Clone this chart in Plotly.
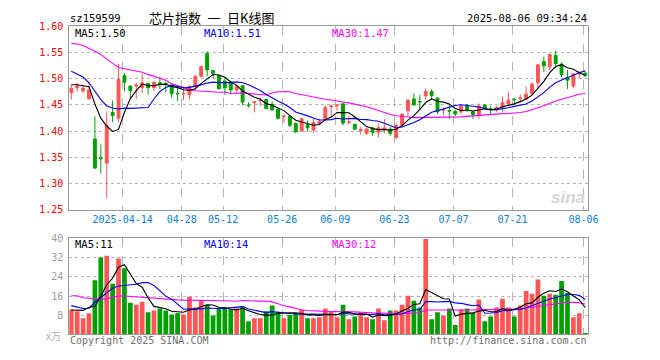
import plotly.graph_objects as go
import pandas as pd

# ---------------- data ----------------
dates = [
    "2025-03-31", "2025-04-01", "2025-04-02", "2025-04-03", "2025-04-07", "2025-04-08", "2025-04-09", "2025-04-10",
    "2025-04-11", "2025-04-14", "2025-04-15", "2025-04-16", "2025-04-17", "2025-04-18", "2025-04-21", "2025-04-22",
    "2025-04-23", "2025-04-24", "2025-04-25", "2025-04-28", "2025-04-29", "2025-04-30", "2025-05-06", "2025-05-07",
    "2025-05-08", "2025-05-09", "2025-05-12", "2025-05-13", "2025-05-14", "2025-05-15", "2025-05-16", "2025-05-19",
    "2025-05-20", "2025-05-21", "2025-05-22", "2025-05-23", "2025-05-26", "2025-05-27", "2025-05-28", "2025-05-29",
    "2025-05-30", "2025-06-03", "2025-06-04", "2025-06-05", "2025-06-06", "2025-06-09", "2025-06-10", "2025-06-11",
    "2025-06-12", "2025-06-13", "2025-06-16", "2025-06-17", "2025-06-18", "2025-06-19", "2025-06-20", "2025-06-23",
    "2025-06-24", "2025-06-25", "2025-06-26", "2025-06-27", "2025-06-30", "2025-07-01", "2025-07-02", "2025-07-03",
    "2025-07-04", "2025-07-07", "2025-07-08", "2025-07-09", "2025-07-10", "2025-07-11", "2025-07-14", "2025-07-15",
    "2025-07-16", "2025-07-17", "2025-07-18", "2025-07-21", "2025-07-22", "2025-07-23", "2025-07-24", "2025-07-25",
    "2025-07-28", "2025-07-29", "2025-07-30", "2025-07-31", "2025-08-01", "2025-08-04", "2025-08-05", "2025-08-06",
]

opens = [
    1.4730, 1.4828, 1.4767, 1.4614, 1.3849, 1.3495, 1.3390, 1.4357, 1.4247, 1.5054,
    1.4859, 1.4859, 1.4828, 1.4908, 1.4828, 1.4920, 1.4908, 1.4877, 1.4718, 1.4706,
    1.4693, 1.4859, 1.5042, 1.5477, 1.5152, 1.5060, 1.4950, 1.4938, 1.4785, 1.4865,
    1.4497, 1.4546, 1.4583, 1.4601, 1.4509, 1.4417, 1.4276, 1.4283, 1.4142, 1.4001,
    1.4123, 1.4019, 1.4142, 1.4221, 1.4466, 1.4483, 1.4521, 1.4164, 1.4130, 1.4013,
    1.3958, 1.4062, 1.3977, 1.4020, 1.4038, 1.3879, 1.4111, 1.4387, 1.4613, 1.4564,
    1.4674, 1.4754, 1.4631, 1.4399, 1.4390, 1.4374, 1.4368, 1.4497, 1.4368, 1.4307,
    1.4497, 1.4420, 1.4405, 1.4448, 1.4527, 1.4605, 1.4620, 1.4614, 1.4712, 1.4920,
    1.5324, 1.5226, 1.5440, 1.5275, 1.5018, 1.4859, 1.5085, 1.5103,
]
highs = [
    1.4877, 1.4920, 1.4877, 1.4950, 1.4283, 1.3745, 1.4375, 1.4583, 1.5275, 1.5109,
    1.4865, 1.4920, 1.5091, 1.4914, 1.4950, 1.5030, 1.4938, 1.4895, 1.4846, 1.4859,
    1.4877, 1.5048, 1.5256, 1.5520, 1.5152, 1.5072, 1.5012, 1.4950, 1.4877, 1.4865,
    1.4550, 1.4570, 1.4631, 1.4601, 1.4570, 1.4417, 1.4325, 1.4295, 1.4172, 1.4246,
    1.4203, 1.4234, 1.4234, 1.4490, 1.4509, 1.4521, 1.4527, 1.4283, 1.4142, 1.4081,
    1.4068, 1.4081, 1.4142, 1.4234, 1.4081, 1.4142, 1.4325, 1.4613, 1.4723, 1.4693,
    1.4815, 1.4797, 1.4631, 1.4448, 1.4490, 1.4405, 1.4509, 1.4509, 1.4368, 1.4527,
    1.4509, 1.4478, 1.4478, 1.4662, 1.4754, 1.4632, 1.4693, 1.4846, 1.4920, 1.5263,
    1.5416, 1.5458, 1.5532, 1.5306, 1.5165, 1.5091, 1.5140, 1.5140,
]
lows = [
    1.4600, 1.4750, 1.4724, 1.4595, 1.3280, 1.3194, 1.2729, 1.4173, 1.4173, 1.4755,
    1.4626, 1.4614, 1.4724, 1.4693, 1.4755, 1.4797, 1.4736, 1.4632, 1.4571, 1.4589,
    1.4602, 1.4785, 1.5030, 1.5042, 1.5012, 1.4797, 1.4693, 1.4693, 1.4724, 1.4491,
    1.4448, 1.4356, 1.4478, 1.4417, 1.4387, 1.4221, 1.4160, 1.4080, 1.3958, 1.3995,
    1.3989, 1.3970, 1.4111, 1.4203, 1.4264, 1.4387, 1.4111, 1.4130, 1.4020, 1.3928,
    1.3928, 1.3915, 1.3885, 1.3958, 1.3915, 1.3854, 1.4099, 1.4283, 1.4497, 1.4387,
    1.4601, 1.4589, 1.4325, 1.4307, 1.4234, 1.4283, 1.4325, 1.4368, 1.4234, 1.4234,
    1.4417, 1.4325, 1.4368, 1.4368, 1.4509, 1.4528, 1.4540, 1.4589, 1.4693, 1.4816,
    1.5122, 1.5152, 1.5201, 1.5030, 1.4803, 1.4816, 1.5000, 1.5030,
]
closes = [
    1.4816, 1.4865, 1.4816, 1.4785, 1.3298, 1.3475, 1.4112, 1.4296, 1.4981, 1.4932,
    1.4773, 1.4877, 1.4920, 1.4828, 1.4926, 1.4895, 1.4895, 1.4712, 1.4712, 1.4718,
    1.4846, 1.5048, 1.5226, 1.5165, 1.5103, 1.4804, 1.4828, 1.4785, 1.4846, 1.4553,
    1.4485, 1.4558, 1.4589, 1.4430, 1.4405, 1.4246, 1.4283, 1.4111, 1.3989, 1.4234,
    1.4062, 1.4160, 1.4185, 1.4448, 1.4478, 1.4497, 1.4154, 1.4172, 1.4038, 1.4026,
    1.4038, 1.3977, 1.4062, 1.4062, 1.3958, 1.4111, 1.4325, 1.4589, 1.4497, 1.4558,
    1.4754, 1.4674, 1.4368, 1.4405, 1.4383, 1.4325, 1.4478, 1.4417, 1.4313, 1.4478,
    1.4436, 1.4417, 1.4448, 1.4540, 1.4589, 1.4599, 1.4632, 1.4706, 1.4895, 1.5263,
    1.5244, 1.5458, 1.5287, 1.5079, 1.4969, 1.5091, 1.5122, 1.5061,
]
volumes = [  # 万
    10.4, 9.7, 6.7, 8.8, 22.6, 32.0, 32.8, 21.1, 31.6, 27.6,
    13.2, 12.4, 13.6, 9.2, 10.0, 10.8, 10.0, 8.3, 8.9, 8.3,
    15.7, 11.2, 14.2, 12.4, 7.9, 10.9, 10.7, 10.4, 10.9, 11.6,
    5.5, 6.7, 6.7, 9.6, 12.0, 9.4, 6.7, 8.1, 8.8, 10.4,
    6.7, 6.7, 7.1, 10.8, 9.3, 7.1, 12.4, 6.3, 7.5, 9.0,
    7.1, 6.3, 10.8, 5.9, 10.0, 10.0, 12.4, 16.1, 14.0, 11.2,
    39.7, 6.3, 9.2, 7.9, 10.8, 3.9, 10.4, 10.8, 9.0, 14.5,
    5.5, 7.5, 11.2, 14.9, 11.2, 7.5, 12.0, 18.1, 16.9, 22.9,
    16.1, 16.9, 16.5, 22.2, 17.3, 7.1, 8.8, 0.6,
]

# moving-average values before enough visible history exists
ma5_head = [1.4883, 1.4883, 1.4865, 1.4846]
ma10_head = [1.514, 1.509, 1.503, 1.492, 1.475, 1.460, 1.448, 1.444, 1.442]
ma30_head = [1.567, 1.566, 1.563, 1.558, 1.552, 1.546, 1.537, 1.529, 1.521, 1.519,
             1.516, 1.514, 1.512, 1.508, 1.504, 1.501, 1.497, 1.490, 1.486, 1.482,
             1.479, 1.477, 1.476, 1.475, 1.474, 1.474, 1.474, 1.472, 1.472]
vma5_head = [10.2, 10.1, 10.0, 11.3]
vma10_head = [12.0, 11.5, 10.8, 10.9, 13.4, 15.4, 17.2, 19.2, 20.2]
vma30_head = [16.1, 16.1, 15.3, 15.0, 14.8, 14.7, 14.9, 15.5, 16.0, 16.0,
              15.8, 15.5, 15.3, 15.1, 15.0, 14.9, 14.7, 14.5, 14.4, 14.3,
              14.3, 14.3, 14.3, 14.3, 14.2, 14.1, 14.0, 13.9, 13.8]

tick_dates = ["2025-04-14", "2025-04-28", "2025-05-12", "2025-05-26", "2025-06-09",
              "2025-06-23", "2025-07-07", "2025-07-21", "2025-08-06"]
tick_labels = ["2025-04-14", "04-28", "05-12", "05-26", "06-09", "06-23", "07-07", "07-21", "08-06"]
price_ticks = [1.25, 1.30, 1.35, 1.40, 1.45, 1.50, 1.55, 1.60]
vol_ticks = [8, 16, 24, 32, 40]

title_code = "sz159599"
title_name = "芯片指数\u2002一\u2002日K线图"
title_time = "2025-08-06 09:34:24"
ma_labels = ["MA5:1.50", "MA10:1.51", "MA30:1.47"]
vma_labels = ["MA5:11", "MA10:14", "MA30:12"]

# ---------------- derived ----------------
n = len(dates)
idx = list(range(n))


def moving(values, w, head):
    s = pd.Series(values).rolling(w).mean().tolist()
    return head + s[len(head):]


ma5 = moving(closes, 5, ma5_head)
ma10 = moving(closes, 10, ma10_head)
ma30 = moving(closes, 30, ma30_head)
vma5 = moving(volumes, 5, vma5_head)
vma10 = moving(volumes, 10, vma10_head)
vma30 = moving(volumes, 30, vma30_head)

RED = "#FF5555"
GREEN = "#00A000"
MONO = "DejaVu Sans Mono"
# The page body keeps an 8px margin, so the figure is 16px smaller than the
# 660x360 window and all reference pixel positions are shifted by 8px.
OFF = 8
W, H = 660 - 2 * OFF, 360 - 2 * OFF


def px(x):
    return (x - OFF) / W


def py(y):
    return (H + OFF - y) / H


vol_colors = [RED if c >= o else GREEN for o, c in zip(opens, closes)]
tick_pos = [dates.index(d) - 0.3 for d in tick_dates]

fig = go.Figure()
fig.add_trace(go.Candlestick(
    x=idx, open=opens, high=highs, low=lows, close=closes,
    increasing=dict(line=dict(color=RED, width=1), fillcolor=RED),
    decreasing=dict(line=dict(color=GREEN, width=1), fillcolor=GREEN),
    whiskerwidth=0, hoverinfo="skip", xaxis="x", yaxis="y"))
for vals, col in [(ma30, "#FF00FF"), (ma10, "#0000FF"), (ma5, "#000000")]:
    fig.add_trace(go.Scatter(x=idx, y=vals, mode="lines", line=dict(color=col, width=1.1),
                             hoverinfo="skip", xaxis="x", yaxis="y"))

fig.add_trace(go.Bar(x=idx, y=volumes, marker=dict(color=vol_colors, line=dict(width=0)),
                     width=0.8, hoverinfo="skip", xaxis="x2", yaxis="y2"))
for vals, col in [(vma30, "#FF00FF"), (vma10, "#0000FF"), (vma5, "#000000")]:
    fig.add_trace(go.Scatter(x=idx, y=vals, mode="lines", line=dict(color=col, width=1.1),
                             hoverinfo="skip", xaxis="x2", yaxis="y2"))

xdom = [px(70.3), px(597.3)]
xr = [-0.33, n - 0.5]
grid = "#B4B4B4"
common_x = dict(domain=xdom, range=xr, tickvals=tick_pos, showgrid=True, gridcolor=grid,
                griddash="dash", gridwidth=1, showline=True, mirror=True, linecolor="#999999",
                linewidth=1, zeroline=False, ticks="", fixedrange=True)
fig.update_layout(
    width=W, height=H, autosize=False,
    margin=dict(l=0, r=0, t=0, b=0),
    paper_bgcolor="white", plot_bgcolor="white",
    showlegend=False, bargap=0.2,
    xaxis=dict(**common_x, anchor="y", ticktext=tick_labels,
               tickfont=dict(family=MONO, size=10, color="#0A7FD8"),
               rangeslider=dict(visible=False)),
    yaxis=dict(domain=[py(211), py(20.5)], range=[1.25, 1.60],
               tickvals=price_ticks, ticktext=["%.2f" % v for v in price_ticks],
               tickfont=dict(family=MONO, size=10, color="#FF0000"),
               showgrid=True, gridcolor=grid, griddash="dot", showline=True, mirror=True,
               linecolor="#999999", zeroline=False, ticks="", ticklabelstandoff=3,
               anchor="x", fixedrange=True),
    xaxis2=dict(**common_x, anchor="y2", showticklabels=False),
    yaxis2=dict(domain=[py(340), py(240.5)], range=[0, 40],
                tickvals=vol_ticks, ticktext=[str(v) for v in vol_ticks],
                tickfont=dict(family=MONO, size=10, color="#A0A0A0"),
                showgrid=True, gridcolor=grid, griddash="dot", showline=True, mirror=True,
                linecolor="#999999", zeroline=False, ticks="", ticklabelstandoff=3,
                anchor="x2", fixedrange=True),
)


def note(text, x, y, size=10, color="#000", anchor="left", family=MONO, **kw):
    fig.add_annotation(text=text, x=px(x), y=py(y), xref="paper", yref="paper",
                       xanchor=anchor, yanchor="middle", showarrow=False,
                       font=dict(family=family, size=size, color=color), **kw)


note(title_code, 69, 12, size=10.5)
note(title_name, 149, 11.5, size=13, family="Noto Sans CJK SC")
note(title_time, 598, 12, size=10.5, anchor="right")

for t, x, c in zip(ma_labels, [74, 205, 335], ["#000000", "#0000FF", "#FF00FF"]):
    note(t, x, 27.5, size=10.5, color=c)
for t, x, c in zip(vma_labels, [74, 205, 335], ["#000000", "#0000FF", "#FF00FF"]):
    note(t, x, 246, size=10.5, color=c)

note("x万", 64, 341, size=10, color="#B0B0B0", anchor="right", family="Noto Sans CJK SC")
note("Copyright 2025 SINA.COM", 69, 346, size=10, color="#707070")
note("http://finance.sina.com.cn", 598, 346, size=10, color="#707070", anchor="right")
note("<b><i>sina</i></b>", 596, 198, size=17, color="#D6D6D6", anchor="right", family="Arial")

fig.write_html("out.html")
